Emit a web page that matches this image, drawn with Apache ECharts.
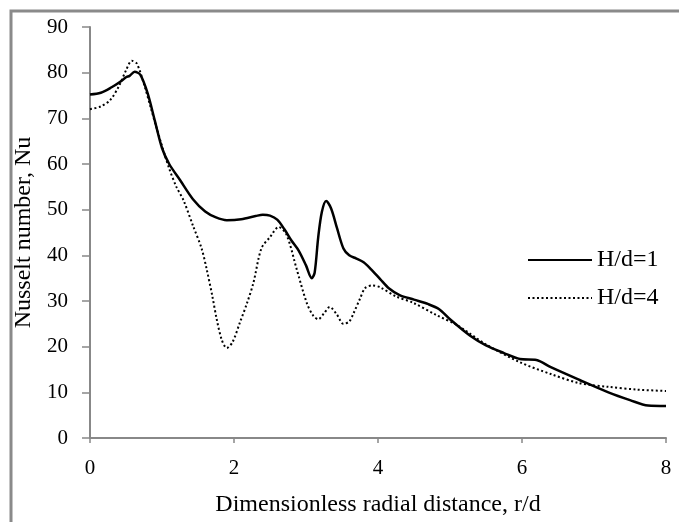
<!DOCTYPE html>
<html>
<head>
<meta charset="utf-8">
<style>
  html, body { margin: 0; padding: 0; background: #fff; }
  #chart { width: 679px; height: 522px; }
</style>
<script src="https://cdn.jsdelivr.net/npm/echarts@6/dist/echarts.min.js"></script>
</head>
<body>
<div id="chart"></div>
<script>
// Radial distance r/d and local Nusselt number for two jet-to-plate spacings
const seriesNames = ['H/d=1', 'H/d=4'];

const hd1X = [0, 0.15, 0.3, 0.42, 0.5, 0.55, 0.62, 0.7, 0.8, 0.9, 1.0, 1.1, 1.25, 1.43, 1.6, 1.75, 1.9, 2.1, 2.3, 2.4, 2.5, 2.6, 2.7, 2.8, 2.9, 3.0, 3.08, 3.12, 3.17, 3.22, 3.28, 3.35, 3.43, 3.52, 3.6, 3.7, 3.8, 3.9, 4.03, 4.15, 4.3, 4.5, 4.7, 4.85, 5.0, 5.28, 5.5, 5.75, 5.97, 6.2, 6.4, 6.8, 7.2, 7.5, 7.75, 8.0];
const hd1Y = [75.2, 75.6, 76.8, 78.0, 79.0, 79.3, 80.2, 79.5, 75.5, 69.5, 63.5, 60.0, 56.5, 52.3, 49.6, 48.3, 47.7, 47.9, 48.6, 48.9, 48.7, 47.8, 45.7, 43.2, 41.0, 37.8, 35.0, 36.2, 44.0, 49.5, 51.9, 50.2, 46.0, 41.5, 40.0, 39.3, 38.5, 37.0, 34.8, 32.8, 31.3, 30.3, 29.3, 28.2, 26.0, 22.4, 20.3, 18.6, 17.3, 17.1, 15.5, 12.7, 10.0, 8.3, 7.1, 7.0];

const hd4X = [0, 0.15, 0.28, 0.4, 0.5, 0.58, 0.65, 0.75, 0.85, 0.97, 1.1, 1.2, 1.3, 1.43, 1.55, 1.62, 1.7, 1.76, 1.83, 1.9, 1.98, 2.08, 2.18, 2.27, 2.38, 2.5, 2.62, 2.73, 2.87, 3.01, 3.1, 3.17, 3.25, 3.33, 3.43, 3.52, 3.6, 3.66, 3.75, 3.82, 3.92, 4.03, 4.25, 4.49, 4.8, 5.1, 5.5, 5.97, 6.4, 6.8, 7.2, 7.6, 8.0];
const hd4Y = [72.0, 72.6, 74.0, 77.0, 80.5, 82.6, 82.0, 77.5, 72.0, 65.5, 59.0, 55.0, 52.0, 46.5, 41.5, 37.0, 31.0, 26.0, 21.5, 19.7, 21.0, 25.2, 29.5, 34.0, 41.5, 44.0, 46.2, 44.5, 37.0, 29.6, 26.8, 26.0, 27.3, 28.7, 27.0, 25.0, 25.5, 27.3, 30.5, 32.8, 33.4, 33.0, 31.0, 29.6, 27.0, 24.7, 20.5, 16.6, 14.0, 12.0, 11.2, 10.6, 10.3];

const xTicks = [0, 2, 4, 6, 8];
const yTicks = [0, 10, 20, 30, 40, 50, 60, 70, 80, 90];

const pairs = (xs, ys) => xs.map((x, i) => [x, ys[i]]);

const font = '"Liberation Serif", "Times New Roman", serif';
const axisGrey = '#888888';

const chart = echarts.init(document.getElementById('chart'));
chart.setOption({
  backgroundColor: '#ffffff',
  animation: false,
  textStyle: { fontFamily: font, color: '#000' },
  grid: { left: 90, right: 13, top: 27, bottom: 84, containLabel: false },
  xAxis: {
    type: 'value',
    min: xTicks[0],
    max: xTicks[xTicks.length - 1],
    interval: 2,
    name: 'Dimensionless radial distance, r/d',
    nameLocation: 'middle',
    nameGap: 55,
    nameTextStyle: { fontFamily: font, fontSize: 24, color: '#000' },
    axisLine: { lineStyle: { color: axisGrey, width: 2 } },
    axisTick: { show: true, inside: false, length: 5, lineStyle: { color: axisGrey, width: 1.5 } },
    axisLabel: { fontFamily: font, fontSize: 21, color: '#000', margin: 20 },
    splitLine: { show: false }
  },
  yAxis: {
    type: 'value',
    min: yTicks[0],
    max: yTicks[yTicks.length - 1],
    interval: 10,
    name: 'Nusselt number, Nu',
    nameLocation: 'middle',
    nameGap: 45,
    nameRotate: 90,
    nameTextStyle: { fontFamily: font, fontSize: 24, color: '#000' },
    axisLine: { show: true, lineStyle: { color: axisGrey, width: 2 } },
    axisTick: { show: true, inside: false, length: 8, lineStyle: { color: axisGrey, width: 1.5 } },
    axisLabel: { fontFamily: font, fontSize: 21, color: '#000', margin: 22 },
    splitLine: { show: false }
  },
  legend: {
    orient: 'vertical',
    left: 522,
    top: 243,
    itemWidth: 64,
    itemHeight: 12,
    itemGap: 14,
    itemStyle: { opacity: 0 },
    textStyle: { fontFamily: font, fontSize: 24, color: '#000' },
    data: seriesNames
  },
  graphic: [{
    type: 'polyline',
    shape: { points: [[11, 522], [11, 11], [679, 11]] },
    style: { stroke: '#8a8a8a', lineWidth: 3, fill: null },
    silent: true
  }],
  series: [
    {
      name: seriesNames[0],
      type: 'line',
      data: pairs(hd1X, hd1Y),
      smooth: 0.3,
      symbol: 'none',
      lineStyle: { color: '#000', width: 2.5, type: 'solid' },
      itemStyle: { color: '#000' }
    },
    {
      name: seriesNames[1],
      type: 'line',
      data: pairs(hd4X, hd4Y),
      smooth: 0.3,
      symbol: 'none',
      lineStyle: { color: '#000', width: 2, type: [2, 2.5] },
      itemStyle: { color: '#000' }
    }
  ]
});
</script>
</body>
</html>
